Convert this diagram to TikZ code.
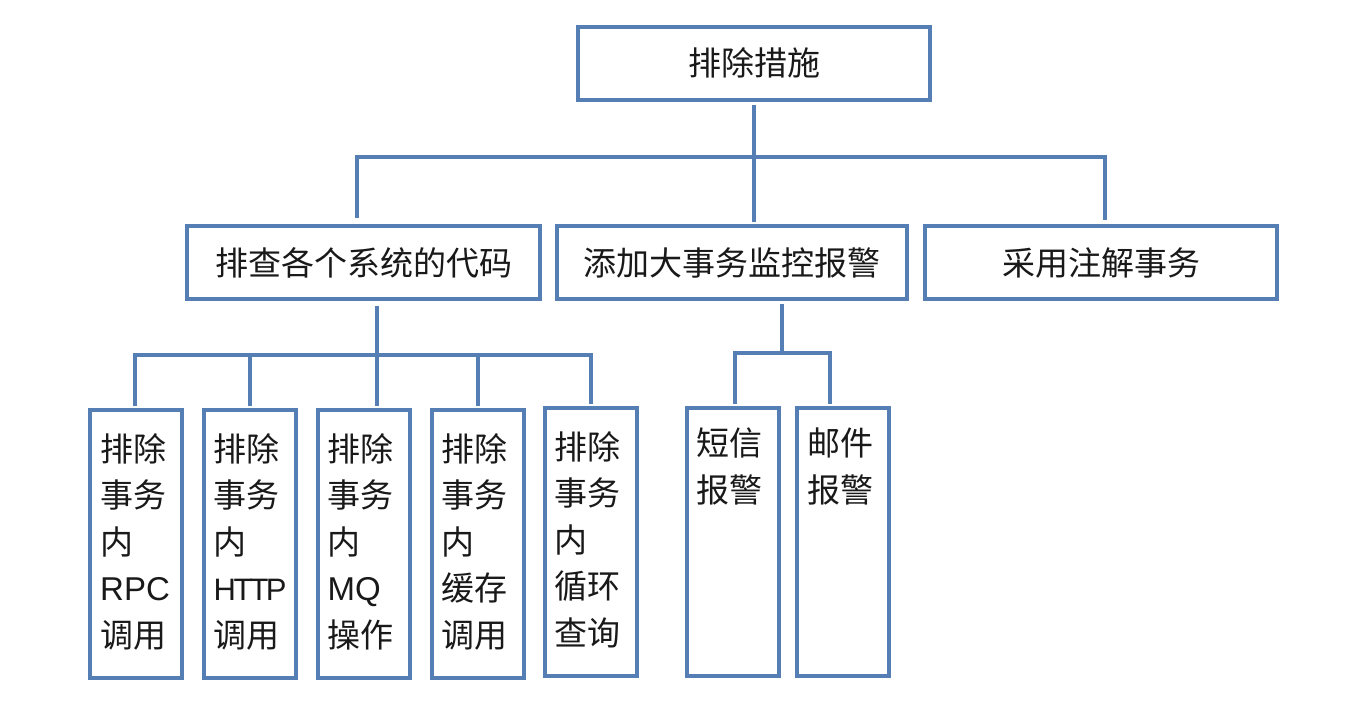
\documentclass[tikz,border=0pt]{standalone}
\usepackage{fontspec}
\setmainfont{Noto Sans CJK SC}
\newfontfamily\latin{Liberation Sans}
\definecolor{boxblue}{RGB}{84,126,180}
\definecolor{ink}{RGB}{25,25,25}
\begin{document}
\begin{tikzpicture}[x=1pt,y=-1pt,
  box/.style={draw=boxblue,line width=4pt,fill=white,inner sep=0pt,text=ink},
  wide/.style={box,minimum width=352pt,minimum height=73pt,font=\fontsize{33}{40}\selectfont},
  tall/.style={box,minimum width=92pt,minimum height=268pt},
  cell/.style={anchor=north west,inner sep=0pt,align=left,text=ink,font=\fontsize{33}{46.5}\selectfont},
  conn/.style={draw=boxblue,line width=4pt,line join=miter},
]
\useasboundingbox (0,0) rectangle (1370,710);
% level 1
\node[wide] (top) at (754,63) {排除措施};
% level 2
\node[wide,minimum width=353pt,text depth=-3pt] (A) at (363.5,262) {排查各个系统的代码};
\node[wide,minimum width=350pt,text depth=-3pt] (B) at (732,262) {添加大事务监控报警};
\node[wide,text depth=-3pt] (C) at (1101,262) {采用注解事务};
% level 3
\node[tall] (b1) at (136,544) {};
\node[tall] (b2) at (249.5,544) {};
\node[tall] (b3) at (363.5,544) {};
\node[tall] (b4) at (477.5,544) {};
\node[tall] (b5) at (590.5,542) {};
\node[tall] (b6) at (732.5,542) {};
\node[tall] (b7) at (843,542) {};
\node[cell] (t1) at ([xshift=12pt,yshift=-25pt]b1.north west) {排除\\事务\\内\\{\latin RPC}\\调用};
\node[cell] (t2) at ([xshift=12pt,yshift=-25pt]b2.north west) {排除\\事务\\内\\{\latin\fontsize{31}{46.5}\selectfont H\kern-2.5pt T\kern-3pt T\kern-2.5pt P}\\调用};
\node[cell] (t3) at ([xshift=12pt,yshift=-25pt]b3.north west) {排除\\事务\\内\\{\latin MQ}\\操作};
\node[cell] (t4) at ([xshift=12pt,yshift=-25pt]b4.north west) {排除\\事务\\内\\缓存\\调用};
\node[cell] (t5) at ([xshift=12pt,yshift=-25pt]b5.north west) {排除\\事务\\内\\循环\\查询};
\node[cell] (t6) at ([xshift=12pt,yshift=-22pt]b6.north west) {短信\\报警};
\node[cell] (t7) at ([xshift=12pt,yshift=-22pt]b7.north west) {邮件\\报警};
% connectors level 1 -> 2
\coordinate (j1) at (754,157);
\draw[conn,shorten <=3pt] (top.south) -- (j1);
\draw[conn,shorten <=6pt] ([xshift=-6.5pt]A.north) |- (j1);
\draw[conn,shorten >=4pt] (j1) -| ([xshift=4pt]C.north);
\draw[conn,shorten >=2pt] (j1) -- (j1 |- B.north);
% connectors A -> level 3
\coordinate (j2) at (377,355);
\draw[conn,shorten <=5pt] ([xshift=13.5pt]A.south) -- (j2);
\draw[conn,shorten <=2pt] ([xshift=-1pt]b1.north) |- (j2);
\draw[conn,shorten <=2pt] (b2.north) |- (j2);
\draw[conn,shorten >=2pt] (j2) -- (j2 |- b3.north);
\draw[conn,shorten >=2pt] (j2) -| (b4.north);
\draw[conn,shorten >=2pt] (j2) -| (b5.north);
% connectors B -> level 3
\coordinate (j3) at (782,353);
\draw[conn,shorten <=3pt] ([xshift=50pt]B.south) -- (j3);
\draw[conn,shorten <=2pt] ([xshift=2.5pt]b6.north) |- (j3);
\draw[conn,shorten >=2pt] (j3) -| ([xshift=-13pt]b7.north);
\end{tikzpicture}
\end{document}
